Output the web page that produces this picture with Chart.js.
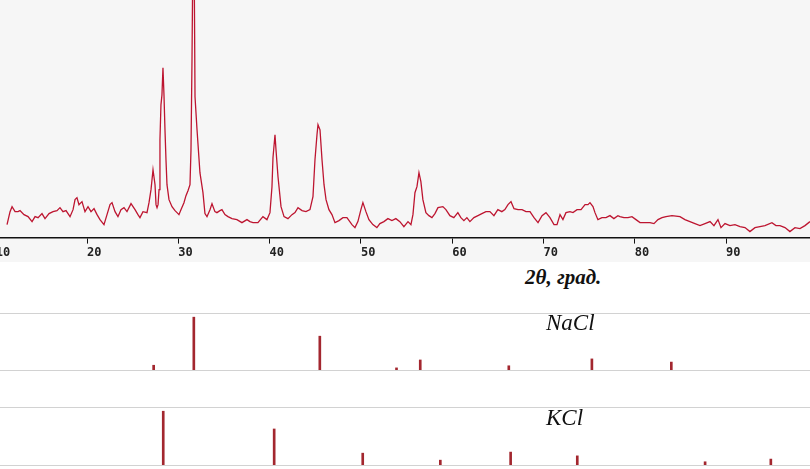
<!DOCTYPE html>
<html>
<head>
<meta charset="utf-8">
<script src="https://cdn.jsdelivr.net/npm/chart.js@4"></script>
<style>
body{margin:0;width:810px;height:469px;overflow:hidden;position:relative;background:#fff;font-family:"Liberation Serif",serif}
#top{position:absolute;left:0;top:0;width:810px;height:262px;background:#f6f6f6}
.stick{position:absolute;left:0;width:810px;border-top:1px solid #d2d2d2;border-bottom:1px solid #d2d2d2}
#nacl{top:313px;height:56px}
#kcl{top:407px;height:57px}
.lbl{position:absolute;font-style:italic;color:#111}
#xtitle{left:525px;top:265px;font-size:21px;font-weight:bold}
#naclT{left:546px;top:310px;font-size:23px}
#kclT{left:546px;top:405px;font-size:23px}
</style>
</head>
<body>
<div id="top"><canvas id="c1"></canvas></div>
<div class="stick" id="nacl"><canvas id="c2"></canvas></div>
<div class="stick" id="kcl"><canvas id="c3"></canvas></div>
<div class="lbl" id="xtitle">2θ, град.</div>
<div class="lbl" id="naclT">NaCl</div>
<div class="lbl" id="kclT">KCl</div>
<script>
// measured pattern, 2theta (deg) and intensity (a.u.)
const twoTheta = [11.24,11.57,11.79,12.12,12.44,12.66,13.10,13.54,13.98,14.31,14.64,15.07,15.40,15.84,16.28,16.71,17.04,17.37,17.70,18.14,
  18.47,18.69,18.90,19.12,19.45,19.78,20.11,20.44,20.77,21.10,21.42,21.86,22.19,22.52,22.74,23.07,23.39,23.72,24.05,24.38,
  24.82,25.26,25.58,25.80,26.13,26.57,26.79,27.01,27.23,27.45,27.56,27.67,27.78,27.89,27.99,28.10,28.21,28.32,28.43,28.54,
  28.65,28.76,28.98,29.31,29.64,29.86,30.07,30.29,30.62,30.84,31.06,31.28,31.39,31.50,31.61,31.72,31.83,32.05,32.37,32.70,
  32.92,33.14,33.47,33.69,34.01,34.23,34.56,34.78,35.11,35.44,35.88,36.42,36.97,37.52,37.85,38.18,38.72,39.27,39.71,40.04,
  40.26,40.37,40.59,40.70,40.92,41.25,41.58,42.01,42.45,42.78,43.11,43.55,43.98,44.42,44.75,44.97,45.19,45.30,45.52,45.74,
  45.96,46.18,46.50,46.83,47.16,47.60,48.03,48.47,49.02,49.35,49.67,50.00,50.22,50.55,50.88,51.31,51.75,52.08,52.52,52.96,
  53.40,53.83,54.27,54.71,55.16,55.48,55.70,55.92,56.14,56.36,56.57,56.79,57.12,57.45,57.78,58.11,58.44,58.98,59.31,59.75,
  60.18,60.62,60.95,61.28,61.61,61.94,62.38,62.82,63.25,63.69,64.13,64.57,65.00,65.44,65.77,66.11,66.44,66.77,67.21,67.65,
  68.08,68.52,68.96,69.40,69.84,70.27,70.71,71.15,71.48,71.81,72.13,72.46,72.90,73.23,73.67,74.11,74.55,74.87,75.09,75.42,
  75.64,75.96,76.40,76.84,77.28,77.71,78.15,78.37,78.81,79.25,79.69,80.13,80.57,81.11,81.66,82.10,82.54,82.98,83.42,84.07,
  84.95,85.49,86.04,86.59,87.14,87.69,88.24,88.67,89.11,89.44,89.88,90.42,90.97,91.52,92.07,92.61,93.16,93.71,94.26,95.02,
  95.46,95.90,96.45,96.99,97.54,98.09,98.64,99.19];
const intensity = [13,26,31,26,26,27,23,21,16,21,20,24,19,24,26,27,30,26,27,21,
  28,38,40,33,36,26,31,26,29,23,18,13,23,33,35,26,21,28,30,26,
  34,28,23,20,26,25,35,48,68,53,33,30,33,48,98,133,143,170,143,108,
  78,53,38,31,27,25,23,28,35,42,47,53,88,178,300,300,141,108,65,45,
  24,21,28,34,26,25,27,28,23,21,19,18,15,18,16,15,15,21,18,25,
  51,80,103,88,61,31,21,19,23,25,30,27,26,28,41,78,103,113,108,78,
  53,38,28,23,15,17,20,20,13,10,16,28,35,26,18,13,10,14,16,19,
  17,19,16,11,16,13,23,45,51,65,56,38,25,22,20,24,30,31,28,22,
  20,25,20,17,20,16,20,22,24,26,26,22,28,26,28,33,36,29,28,28,
  26,26,20,15,22,25,20,13,13,23,18,25,26,25,28,28,33,33,35,31,
  25,18,20,20,22,19,22,21,20,20,21,18,15,15,15,14,18,20,21,22,
  21,18,16,14,12,14,16,12,18,10,14,12,13,11,10,6,10,11,12,15,
  12,12,10,6,10,9,12,16];

// reference cards (relative intensity, %)
const naclPos = [27.3, 31.7, 45.5, 53.9, 56.5, 66.2, 75.3, 84.0];
const naclInt = [9, 100, 64, 4, 19, 8, 21, 15];
const kclPos = [28.35, 40.5, 50.2, 58.7, 66.4, 73.7, 87.7, 94.9];
const kclInt = [100, 67, 22, 9, 24, 17, 6, 11];

const xTicks = [10, 20, 30, 40, 50, 60, 70, 80, 90];
const xMin = 10.47, xMax = 99.19;

Chart.defaults.animation = false;
Chart.defaults.devicePixelRatio = 1;

new Chart(document.getElementById('c1'), {
  type: 'line',
  data: {
    datasets: [{
      data: twoTheta.map((t, i) => ({x: t, y: intensity[i]})),
      borderColor: '#bd1530',
      borderWidth: 1.3,
      pointRadius: 0,
      tension: 0
    }]
  },
  options: {
    responsive: true,
    maintainAspectRatio: false,
    layout: {padding: 0},
    plugins: {legend: {display: false}, tooltip: {enabled: false}},
    scales: {
      x: {
        type: 'linear', min: xMin, max: xMax,
        afterBuildTicks: s => { s.ticks = xTicks.map(v => ({value: v})); },
        afterFit: s => { s.paddingLeft = 0; s.paddingRight = 0; },
        grid: {drawOnChartArea: false, drawTicks: true, tickLength: 6, color: '#111'},
        border: {display: true, color: '#111', width: 1.5},
        ticks: {
          align: 'start', padding: 2, color: '#222',
          font: {family: 'DejaVu Sans Mono', size: 12, weight: 'bold'}
        }
      },
      y: {display: false, min: 0, max: 238}
    }
  }
});

function stickChart(id, pos, vals) {
  new Chart(document.getElementById(id), {
    type: 'bar',
    data: {
      datasets: [{
        data: pos.map((p, i) => ({x: p, y: vals[i]})),
        backgroundColor: '#a3272f',
        barThickness: 2
      }]
    },
    options: {
      responsive: true,
      maintainAspectRatio: false,
      layout: {padding: 0},
      plugins: {legend: {display: false}, tooltip: {enabled: false}},
      scales: {
        x: {type: 'linear', offset: false, min: xMin, max: xMax, display: false},
        y: {display: false, min: 0, max: 106}
      }
    }
  });
}
stickChart('c2', naclPos, naclInt);
stickChart('c3', kclPos, kclInt);
</script>
</body>
</html>
